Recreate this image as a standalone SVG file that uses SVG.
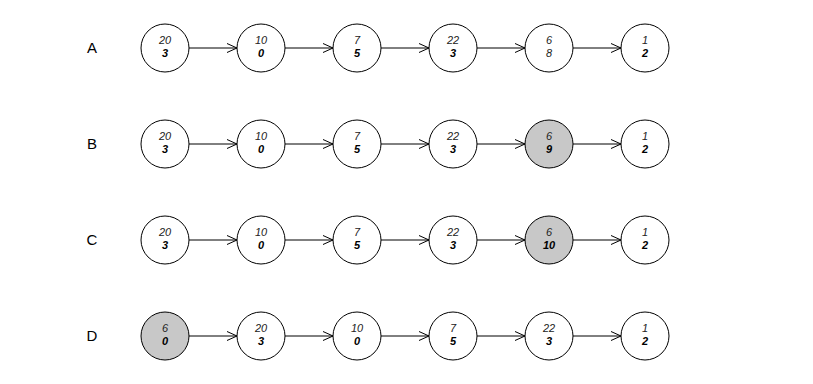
<svg xmlns="http://www.w3.org/2000/svg" width="813" height="384" viewBox="0 0 813 384">
<defs>
<style>
.n{fill:#fff;stroke:#000;stroke-width:1}
.g{fill:#c8c8c8;stroke:#000;stroke-width:1}
.t{font-family:"Liberation Sans",Arial,sans-serif;font-size:11px;font-style:italic;text-anchor:middle;fill:#222}
.b{font-family:"Liberation Sans",Arial,sans-serif;font-size:11px;font-style:italic;font-weight:bold;text-anchor:middle;fill:#000}
.lab{font-family:"Liberation Sans",Arial,sans-serif;font-size:15px;text-anchor:middle;fill:#000}
.e{stroke:#000;stroke-width:1;fill:none}
</style>
<marker id="ar" viewBox="0 0 10 10" refX="10" refY="5" markerWidth="10" markerHeight="10" markerUnits="userSpaceOnUse" orient="auto">
<path d="M0,0.5 L10,5 L0,9.5" fill="none" stroke="#000" stroke-width="1"/>
</marker>
</defs>
<rect width="813" height="384" fill="#fff"/>
<g id="labels">
<text class="lab" x="92" y="53">A</text>
<text class="lab" x="92" y="149">B</text>
<text class="lab" x="92" y="245">C</text>
<text class="lab" x="92" y="341">D</text>
</g>
<g id="connectors">
<line class="e" x1="189" y1="48" x2="237" y2="48" marker-end="url(#ar)"/>
<line class="e" x1="285" y1="48" x2="333" y2="48" marker-end="url(#ar)"/>
<line class="e" x1="381" y1="48" x2="429" y2="48" marker-end="url(#ar)"/>
<line class="e" x1="477" y1="48" x2="525" y2="48" marker-end="url(#ar)"/>
<line class="e" x1="573" y1="48" x2="621" y2="48" marker-end="url(#ar)"/>
<line class="e" x1="189" y1="144" x2="237" y2="144" marker-end="url(#ar)"/>
<line class="e" x1="285" y1="144" x2="333" y2="144" marker-end="url(#ar)"/>
<line class="e" x1="381" y1="144" x2="429" y2="144" marker-end="url(#ar)"/>
<line class="e" x1="477" y1="144" x2="525" y2="144" marker-end="url(#ar)"/>
<line class="e" x1="573" y1="144" x2="621" y2="144" marker-end="url(#ar)"/>
<line class="e" x1="189" y1="240" x2="237" y2="240" marker-end="url(#ar)"/>
<line class="e" x1="285" y1="240" x2="333" y2="240" marker-end="url(#ar)"/>
<line class="e" x1="381" y1="240" x2="429" y2="240" marker-end="url(#ar)"/>
<line class="e" x1="477" y1="240" x2="525" y2="240" marker-end="url(#ar)"/>
<line class="e" x1="573" y1="240" x2="621" y2="240" marker-end="url(#ar)"/>
<line class="e" x1="189" y1="336" x2="237" y2="336" marker-end="url(#ar)"/>
<line class="e" x1="285" y1="336" x2="333" y2="336" marker-end="url(#ar)"/>
<line class="e" x1="381" y1="336" x2="429" y2="336" marker-end="url(#ar)"/>
<line class="e" x1="477" y1="336" x2="525" y2="336" marker-end="url(#ar)"/>
<line class="e" x1="573" y1="336" x2="621" y2="336" marker-end="url(#ar)"/>
</g>
<g id="A1"><circle class="n" cx="165" cy="48" r="24"/><text class="t" x="165" y="44">20</text><text class="b" x="165" y="57">3</text></g>
<g id="A2"><circle class="n" cx="261" cy="48" r="24"/><text class="t" x="261" y="44">10</text><text class="b" x="261" y="57">0</text></g>
<g id="A3"><circle class="n" cx="357" cy="48" r="24"/><text class="t" x="357" y="44">7</text><text class="b" x="357" y="57">5</text></g>
<g id="A4"><circle class="n" cx="453" cy="48" r="24"/><text class="t" x="453" y="44">22</text><text class="b" x="453" y="57">3</text></g>
<g id="A5"><circle class="n" cx="549" cy="48" r="24"/><text class="t" x="549" y="44">6</text><text class="t" x="549" y="57">8</text></g>
<g id="A6"><circle class="n" cx="645" cy="48" r="24"/><text class="t" x="645" y="44">1</text><text class="b" x="645" y="57">2</text></g>
<g id="B1"><circle class="n" cx="165" cy="144" r="24"/><text class="t" x="165" y="140">20</text><text class="b" x="165" y="153">3</text></g>
<g id="B2"><circle class="n" cx="261" cy="144" r="24"/><text class="t" x="261" y="140">10</text><text class="b" x="261" y="153">0</text></g>
<g id="B3"><circle class="n" cx="357" cy="144" r="24"/><text class="t" x="357" y="140">7</text><text class="b" x="357" y="153">5</text></g>
<g id="B4"><circle class="n" cx="453" cy="144" r="24"/><text class="t" x="453" y="140">22</text><text class="b" x="453" y="153">3</text></g>
<g id="B5"><circle class="g" cx="549" cy="144" r="24"/><text class="t" x="549" y="140">6</text><text class="b" x="549" y="153">9</text></g>
<g id="B6"><circle class="n" cx="645" cy="144" r="24"/><text class="t" x="645" y="140">1</text><text class="b" x="645" y="153">2</text></g>
<g id="C1"><circle class="n" cx="165" cy="240" r="24"/><text class="t" x="165" y="236">20</text><text class="b" x="165" y="249">3</text></g>
<g id="C2"><circle class="n" cx="261" cy="240" r="24"/><text class="t" x="261" y="236">10</text><text class="b" x="261" y="249">0</text></g>
<g id="C3"><circle class="n" cx="357" cy="240" r="24"/><text class="t" x="357" y="236">7</text><text class="b" x="357" y="249">5</text></g>
<g id="C4"><circle class="n" cx="453" cy="240" r="24"/><text class="t" x="453" y="236">22</text><text class="b" x="453" y="249">3</text></g>
<g id="C5"><circle class="g" cx="549" cy="240" r="24"/><text class="t" x="549" y="236">6</text><text class="b" x="549" y="249">10</text></g>
<g id="C6"><circle class="n" cx="645" cy="240" r="24"/><text class="t" x="645" y="236">1</text><text class="b" x="645" y="249">2</text></g>
<g id="D1"><circle class="g" cx="165" cy="336" r="24"/><text class="t" x="165" y="332">6</text><text class="b" x="165" y="345">0</text></g>
<g id="D2"><circle class="n" cx="261" cy="336" r="24"/><text class="t" x="261" y="332">20</text><text class="b" x="261" y="345">3</text></g>
<g id="D3"><circle class="n" cx="357" cy="336" r="24"/><text class="t" x="357" y="332">10</text><text class="b" x="357" y="345">0</text></g>
<g id="D4"><circle class="n" cx="453" cy="336" r="24"/><text class="t" x="453" y="332">7</text><text class="b" x="453" y="345">5</text></g>
<g id="D5"><circle class="n" cx="549" cy="336" r="24"/><text class="t" x="549" y="332">22</text><text class="b" x="549" y="345">3</text></g>
<g id="D6"><circle class="n" cx="645" cy="336" r="24"/><text class="t" x="645" y="332">1</text><text class="b" x="645" y="345">2</text></g>
</svg>
